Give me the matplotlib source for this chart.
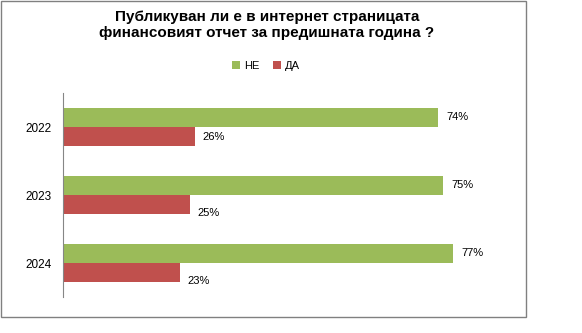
import matplotlib.pyplot as plt
import numpy as np
from matplotlib.patches import Rectangle

years = ['2022', '2023', '2024']
ne = [74, 75, 77]
da = [26, 25, 23]

green = '#9BBB59'
red = '#C0504D'

plt.rcParams['font.family'] = ['Liberation Sans', 'DejaVu Sans']

fig = plt.figure(figsize=(5.82, 3.33), dpi=100)
ax = fig.add_axes([63 / 582, 36 / 333, 456 / 582, 204 / 333])

y = np.arange(len(years))
h = 0.28
ax.barh(y - h / 2, ne, height=h, color=green, label='НЕ')
ax.barh(y + h / 2, da, height=h, color=red, label='ДА')

for i in range(len(years)):
    ax.text(ne[i] + 1.6, y[i] - h / 2, f'{ne[i]}%', va='center', ha='left', fontsize=8)
    ax.text(da[i] + 1.6, y[i] + h / 2 + (0.0 if i == 0 else 0.12), f'{da[i]}%',
            va='center', ha='left', fontsize=8)

ax.set_xlim(0, 90)
ax.set_ylim(2.5, -0.5)
ax.set_yticks(y)
ax.set_yticklabels(years, fontsize=8.5)
ax.set_xticks([])
ax.tick_params(axis='y', length=0, pad=8)
for side in ['top', 'right', 'bottom']:
    ax.spines[side].set_visible(False)
ax.spines['left'].set_color('#868686')

fig.text(267 / 582, 1 - 25 / 333, 'Публикуван ли е в интернет страницата\nфинансовият отчет за предишната година ?',
         ha='center', va='center', fontsize=11, fontweight='bold', linespacing=1.25)

fig.legend(loc='center', bbox_to_anchor=(266 / 582, 1 - 66 / 333), ncol=2, frameon=False,
           fontsize=8, handlelength=0.7, handleheight=0.7, columnspacing=1.2, handletextpad=0.4)

fig.patches.append(Rectangle((1 / 582, 1 - 317 / 333), 525 / 582, 316 / 333,
                             transform=fig.transFigure, fill=False, edgecolor='#808080', linewidth=1))

fig.savefig('out.png', dpi=100)
